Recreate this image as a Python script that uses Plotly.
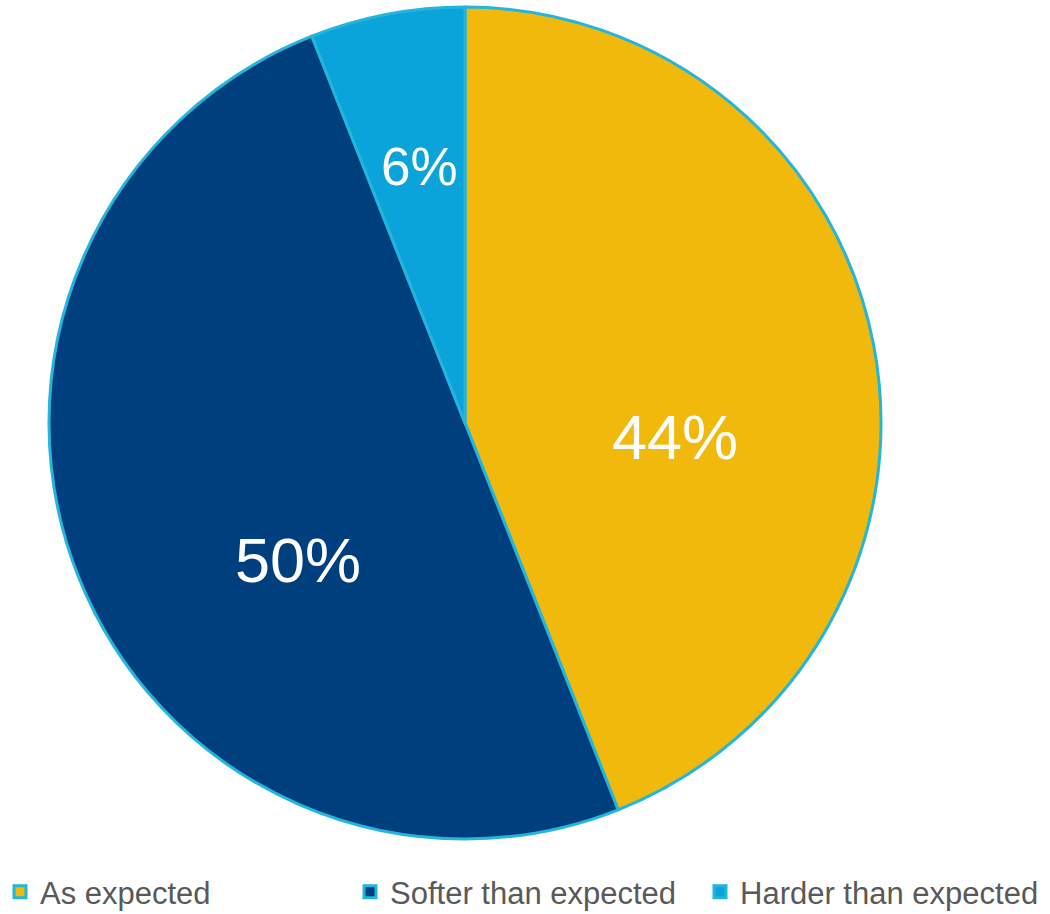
import math
import plotly.graph_objects as go

# Survey responses: how the outcome compared with expectations
categories = ["As expected", "Softer than expected", "Harder than expected"]
shares = [44, 50, 6]
slice_colors = ["#F0B90C", "#003F7D", "#0BA4DA"]

# Label styling and placement (fraction of radius, angular nudge in degrees)
label_sizes = [63, 63, 53]
label_radius = [0.506, 0.519, 0.625]
label_angle_shift = [14.6, -17.8, 0.8]

W, H = 1050, 914
pie_x = [0, 930 / W]
pie_y = [75 / H, 907 / H]

fig = go.Figure(
    go.Pie(
        labels=categories,
        values=shares,
        sort=False,
        direction="clockwise",
        rotation=0,
        marker=dict(colors=slice_colors, line=dict(color="#22B5DD", width=3)),
        textinfo="none",
        domain=dict(x=pie_x, y=pie_y),
        hoverinfo="label+percent",
    )
)

# Percentage labels placed around each slice's middle angle
cx = (pie_x[0] + pie_x[1]) / 2 * W
cy = (pie_y[0] + pie_y[1]) / 2 * H
radius = min((pie_x[1] - pie_x[0]) * W, (pie_y[1] - pie_y[0]) * H) / 2
total = sum(shares)
start = 0.0
for val, size, rf, shift in zip(shares, label_sizes, label_radius, label_angle_shift):
    mid = (start + val / 2) / total * 360 + shift
    start += val
    theta = math.radians(mid)
    px = cx + rf * radius * math.sin(theta)
    py = cy + rf * radius * math.cos(theta)
    fig.add_annotation(
        x=px / W, y=py / H, xref="paper", yref="paper",
        text=f"{round(val / total * 100)}%",
        showarrow=False, xanchor="center", yanchor="middle",
        font=dict(family="Liberation Sans, Arial, sans-serif", size=size, color="white"),
    )

fig.update_layout(
    width=W,
    height=H,
    margin=dict(l=0, r=0, t=0, b=0, autoexpand=False),
    paper_bgcolor="white",
    plot_bgcolor="white",
    showlegend=True,
    legend=dict(
        orientation="h",
        x=0.0,
        xanchor="left",
        y=-5 / H,
        yanchor="bottom",
        font=dict(family="Liberation Sans, Arial, sans-serif", size=31, color="#595959"),
        itemwidth=30,
        entrywidth=305,
        entrywidthmode="pixels",
        tracegroupgap=0,
    ),
)

fig.write_html("out.html")
